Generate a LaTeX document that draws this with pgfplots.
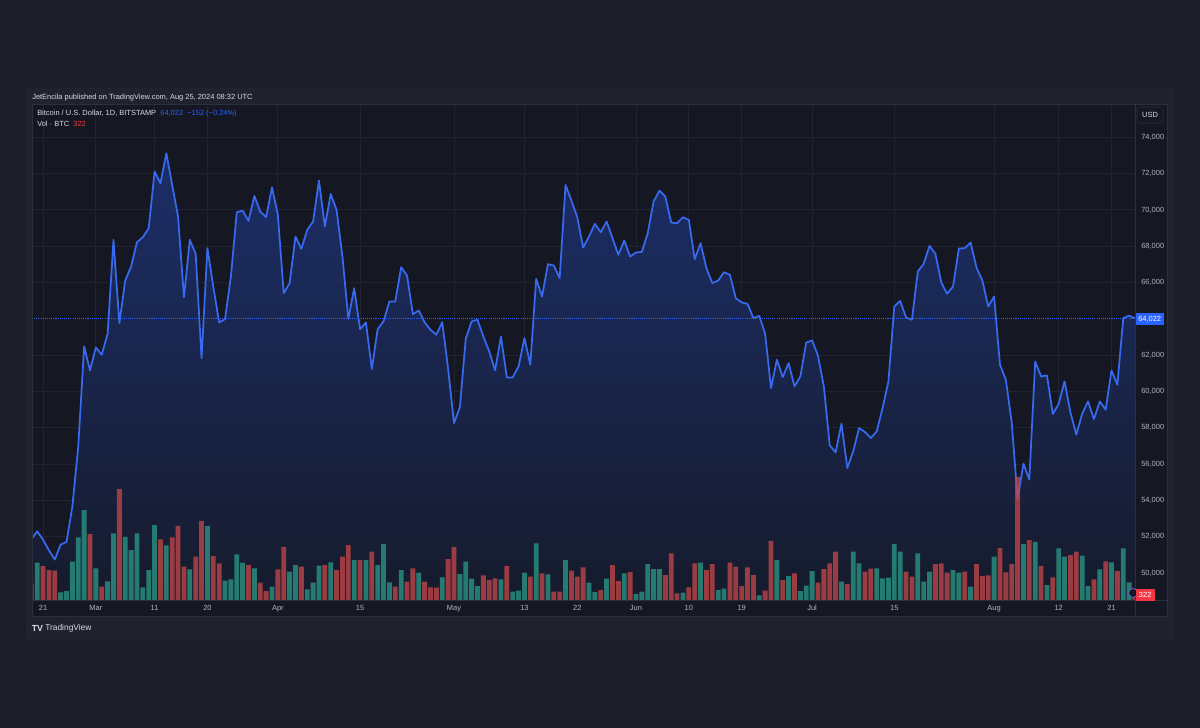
\documentclass[border=0pt]{standalone}
\usepackage{pgfplots}
\pgfplotsset{compat=1.18}
\usepackage{pgfplotstable}
\usepackage{fontspec}
\setmainfont{Liberation Sans}
\definecolor{outerbg}{RGB}{27,30,40}
\definecolor{panelbg}{RGB}{32,35,46}
\definecolor{chartbg}{RGB}{21,24,34}
\definecolor{sepc}{RGB}{44,48,60}
\definecolor{gridc}{RGB}{32,36,49}
\definecolor{tvblue}{RGB}{41,98,255}
\definecolor{linec}{RGB}{55,106,240}
\definecolor{fillTop}{RGB}{28,46,104}
\definecolor{fillBot}{RGB}{22,27,44}
\definecolor{volup}{RGB}{43,155,135}
\definecolor{voldn}{RGB}{199,71,72}
\definecolor{txt}{RGB}{178,181,190}
\definecolor{hdr}{RGB}{215,218,225}
\definecolor{tvred}{RGB}{242,54,69}
\definecolor{iconc}{RGB}{110,90,210}

\pgfplotstableread{
d c
0 51833
1 52292
2 51830
3 51246
4 50732
5 51558
6 51705
7 53668
8 56971
9 62476
10 61155
11 62421
12 62017
13 63174
14 68348
15 63761
16 66110
17 66880
18 68220
19 68495
20 68990
21 72110
22 71467
23 73119
24 71376
25 69633
26 65192
27 68348
28 67578
29 61834
30 67890
31 65779
32 63797
33 63981
34 66330
35 69871
36 69963
37 69394
38 70770
39 69908
40 69596
41 71248
42 69725
43 65412
44 65963
45 68532
46 67853
47 68899
48 69357
49 71615
50 69082
51 70880
52 70000
53 67430
54 64000
55 65688
56 63430
57 63797
58 61228
59 63430
60 63853
61 64954
62 64954
63 66844
64 66385
65 64256
66 64458
67 63797
68 63394
69 63118
70 63816
71 61228
72 58256
73 59118
74 62898
75 63853
76 63944
77 63027
78 62201
79 61155
80 63027
81 60770
82 60770
83 61376
84 62935
85 61468
86 66202
87 65229
88 67009
89 66936
90 66239
91 71376
92 70514
93 69596
94 67926
95 68532
96 69229
97 68770
98 69357
99 68440
100 67522
101 68312
102 67431
103 67651
104 67688
105 68715
106 70459
107 71064
108 70734
109 69302
110 69265
111 69596
112 69449
113 67284
114 68165
115 66788
116 65963
117 66110
118 66568
119 66422
120 65137
121 64899
122 64825
123 64036
124 64165
125 63174
126 60182
127 61742
128 60788
129 61559
130 60274
131 60825
132 62696
133 62806
134 61962
135 60274
136 57026
137 56641
138 58219
139 55778
140 56696
141 57981
142 57760
143 57430
144 57790
145 59082
146 60550
147 64678
148 64990
149 64073
150 63944
151 66605
152 67027
153 68018
154 67578
155 66000
156 65376
157 65780
158 67872
159 67890
160 68202
161 66825
162 66110
163 64678
164 65229
165 61467
166 60641
167 58293
168 54072
169 56017
170 55136
171 61650
172 60825
173 60880
174 58751
175 59320
176 60550
177 58843
178 57614
179 58770
180 59449
181 58476
182 59449
183 58990
184 61155
185 60366
186 64036
187 64174
188 64022
}\price

\pgfplotstableread{
d v
1 2386
5 490
6 575
7 2450
8 4004
9 5751
11 2024
13 1193
14 4260
16 4047
17 3195
18 4260
19 809
20 1917
21 4793
23 3493
27 1960
30 4750
33 1235
34 1321
35 2918
36 2386
38 2024
41 852
44 1811
45 2237
47 682
48 1108
49 2194
51 2407
55 2556
57 2556
59 2237
60 3578
61 1129
63 1917
66 1747
70 1448
73 1661
74 2450
75 1363
76 895
80 1321
82 533
83 596
84 1747
86 3621
88 1640
91 2556
95 1108
96 511
98 1363
101 1704
103 383
104 533
105 2300
106 1981
107 1981
111 469
114 2386
117 639
118 724
124 298
127 2556
129 1534
131 575
132 916
133 1853
138 1172
140 3089
141 2343
144 2024
145 1385
146 1427
147 3578
148 3089
151 2982
152 1172
153 1811
157 1917
158 1747
160 852
164 2769
169 3578
171 3728
173 959
175 3302
176 2769
179 2833
180 895
182 1960
184 2407
186 3302
187 1129
}\volup

\pgfplotstableread{
d v
0 1065
2 2173
3 1917
4 1874
10 4217
12 852
15 7093
22 3877
24 4004
25 4750
26 2130
28 2769
29 5069
31 2812
32 2343
37 2237
39 1108
40 575
42 1960
43 3408
46 2130
50 2237
52 1917
53 2769
54 3515
56 2556
58 3089
62 852
64 1172
65 2024
67 1172
68 809
69 788
71 2620
72 3408
77 1576
78 1278
79 1385
81 2173
85 1491
87 1704
89 533
90 533
92 1874
93 1491
94 2087
97 639
99 2237
100 1214
102 1789
108 1598
109 2982
110 426
112 809
113 2343
115 1917
116 2300
119 2386
120 2130
121 895
122 2087
123 1598
125 596
126 3791
128 1278
130 1704
134 1108
135 1981
136 2343
137 3089
139 1022
142 1811
143 2002
149 1811
150 1491
154 2300
155 2343
156 1747
159 1811
161 2300
162 1534
163 1576
165 3344
166 1768
167 2300
168 7881
170 3834
172 2173
174 1448
177 2876
178 3089
181 1321
183 2471
185 1853
188 322
}\voldn

\newcommand{\sm}{\fontsize{5.6}{6.5}\selectfont}

\begin{document}
\begin{tikzpicture}[x=0.75pt,y=-0.75pt]
\fill[outerbg] (0,0) rectangle (1200,728);
\fill[panelbg] (26,88) rectangle (1175,640);
\fill[chartbg] (32,104) rectangle (1167,616);

\begin{axis}[
  at={(24pt,-450pt)}, anchor=south west,
  scale only axis, width=827.25pt, height=372pt,
  xmin=0.12, xmax=188, ymin=48505, ymax=75835,
  axis line style={draw=none},
  major tick length=0pt,
  clip mode=individual,
  xtick={2,11,21,30,42,56,72,84,93,103,112,121,133,147,164,175,184},
  xticklabels={21,Mar,11,20,Apr,15,May,13,22,Jun,10,19,Jul,15,Aug,12,21},
  ytick={50000,52000,54000,56000,58000,60000,62000,66000,68000,70000,72000,74000},
  yticklabel pos=right,
  scaled y ticks=false,
  grid=major,
  major grid style={draw=gridc, line width=0.6pt},
  ticklabel style={font=\sm, text=txt},
  xticklabel style={anchor=north, yshift=-0.3pt},
  yticklabel style={anchor=west, xshift=1.2pt},
  /pgf/number format/.cd, 1000 sep={,}, assume math mode=true
]
\addplot[draw=none, top color=fillTop, bottom color=fillBot]
  table[x=d, y=c] {\price} -- (axis cs:188,48505) -- (axis cs:0,48505) -- cycle;
\addplot[tvblue, line width=0.5pt, dash pattern=on 0.8pt off 0.8pt] coordinates {(0.12,64022) (188,64022)};
\addplot[linec, line width=1.3pt, line join=round] table[x=d, y=c] {\price};
\end{axis}

\begin{axis}[
  at={(24pt,-450pt)}, anchor=south west,
  scale only axis, width=827.25pt, height=372pt,
  xmin=0.12, xmax=188, ymin=0, ymax=31744,
  hide axis, clip mode=individual
]
\addplot[ybar, bar width=0.82, bar shift=0pt, fill=volup, draw=none, fill opacity=0.75] table[x=d, y=v] {\volup};
\addplot[ybar, bar width=0.82, bar shift=0pt, fill=voldn, draw=none, fill opacity=0.75] table[x=d, y=v] {\voldn};
\end{axis}

% frame and separators
\draw[sepc, line width=0.6pt] (32,104) rectangle (1167,616);
\draw[sepc, line width=0.6pt] (1135,104) -- (1135,616);
\draw[sepc, line width=0.6pt] (32,600) -- (1167,600);

% price scale labels
\draw[sepc, fill=chartbg, rounded corners=1.5pt] (1137,107) rectangle (1163,123);
\node[font=\sm, text=hdr] at (1150,115) {USD};
\fill[tvblue] (1135.5,313) rectangle (1164,325);
\node[font=\sm, text=white] at (1149.7,319) {64,022};
\draw[draw=iconc, fill=chartbg, line width=0.6pt] (1133,593) circle (4.5);
\fill[tvred] (1135.5,589) rectangle (1155,601);
\node[font=\sm, text=white] at (1145.2,595) {322};

% legend
\node[font=\sm, text=hdr, anchor=west, inner sep=0pt] at (37,113.5)
  {Bitcoin / U.S. Dollar, 1D, BITSTAMP\ \ \textcolor{tvblue}{64,022\ \ −152 (−0.24\%)}};
\node[font=\sm, text=hdr, anchor=west, inner sep=0pt] at (37,124)
  {Vol · BTC\ \ \textcolor{tvred}{322}};

% header
\node[font=\sm, text=hdr, anchor=west, inner sep=0pt] at (32,97.3)
  {JetEncila published on TradingView.com, Aug 25, 2024 08:32 UTC};

% footer
\node[font=\fontsize{6.6}{7}\selectfont\bfseries, text=hdr, anchor=west, inner sep=0pt] at (31.5,628.5) {TV};
\node[font=\fontsize{6.3}{7}\selectfont, text=hdr, anchor=west, inner sep=0pt] at (45,628.5) {TradingView};
\end{tikzpicture}
\end{document}
